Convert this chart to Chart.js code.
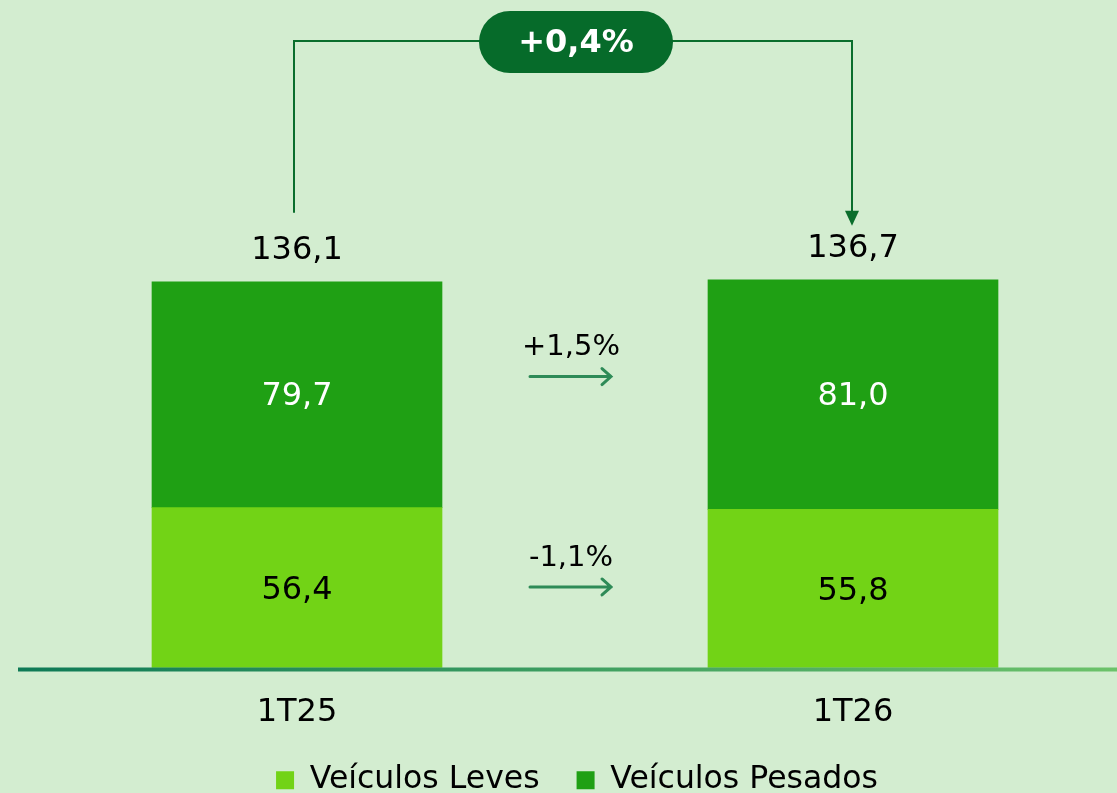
<!DOCTYPE html>
<html>
<head>
<meta charset="utf-8">
<script src="https://cdn.jsdelivr.net/npm/chart.js@4.4.0/dist/chart.umd.min.js"></script>
<style>
  html, body { margin: 0; padding: 0; background: #d3edd0; overflow: hidden; }
  #wrap { width: 1117px; height: 793px; }
</style>
</head>
<body>
<div id="wrap"><canvas id="volumeChart"></canvas></div>
<script>
// values
const categories = ['1T25', '1T26'];
const leves = [56.4, 55.8];
const pesados = [79.7, 81.0];
const totals = [136.1, 136.7];
const levesGrowth = '-1,1%';
const pesadosGrowth = '+1,5%';
const totalGrowth = '+0,4%';

const FONT = '"DejaVu Sans", Verdana, sans-serif';
const fmt = v => v.toFixed(1).replace('.', ',');

// draws the axis line, value labels, growth arrows and the top bracket
const annotations = {
    id: 'annotations',
    afterDatasetsDraw(chart) {
        const ctx = chart.ctx;
        const y = chart.scales.y;
        const base = y.getPixelForValue(0);
        const lowBars = chart.getDatasetMeta(0).data;
        const highBars = chart.getDatasetMeta(1).data;

        // gradient baseline
        const grad = ctx.createLinearGradient(18, 0, 1117, 0);
        grad.addColorStop(0, '#0e7a56');
        grad.addColorStop(1, '#6cc26a');
        ctx.save();
        ctx.fillStyle = grad;
        ctx.fillRect(18, base, 1099, 4);

        ctx.textAlign = 'center';
        ctx.textBaseline = 'middle';
        ctx.font = '32px ' + FONT;

        lowBars.forEach((bar, i) => {
            ctx.fillStyle = '#000';
            ctx.fillText(fmt(leves[i]), bar.x, (bar.y + bar.base) / 2 + 3);
            const hb = highBars[i];
            ctx.fillStyle = '#fff';
            ctx.fillText(fmt(pesados[i]), hb.x, (hb.y + hb.base) / 2 + 2);
            ctx.fillStyle = '#000';
            ctx.fillText(fmt(totals[i]), hb.x, hb.y - 31);
        });

        // growth arrows between the bars
        const midX = (lowBars[0].x + lowBars[1].x) / 2;
        const arrow = (cy, label) => {
            ctx.fillStyle = '#000';
            ctx.font = '29px ' + FONT;
            ctx.fillText(label, midX - 4, cy - 29);
            ctx.strokeStyle = '#2e8b57';
            ctx.lineWidth = 3;
            ctx.lineCap = 'round';
            ctx.beginPath();
            ctx.moveTo(midX - 45, cy);
            ctx.lineTo(midX + 36, cy);
            ctx.moveTo(midX + 27, cy - 8);
            ctx.lineTo(midX + 36, cy);
            ctx.lineTo(midX + 27, cy + 8);
            ctx.stroke();
        };
        const hiMid = (highBars[0].y + highBars[0].base + highBars[1].y + highBars[1].base) / 4;
        const loMid = (lowBars[0].y + lowBars[0].base + lowBars[1].y + lowBars[1].base) / 4;
        arrow(hiMid - 18, pesadosGrowth);
        arrow(loMid - 1, levesGrowth);

        // bracket over the bars
        const lx = highBars[0].x - 3;
        const rx = highBars[1].x - 1;
        const topY = 41;
        ctx.strokeStyle = '#0a6e2c';
        ctx.lineWidth = 2;
        ctx.lineCap = 'butt';
        ctx.beginPath();
        ctx.moveTo(lx, highBars[0].y - 69);
        ctx.lineTo(lx, topY);
        ctx.lineTo(rx, topY);
        ctx.lineTo(rx, highBars[1].y - 68);
        ctx.stroke();
        ctx.fillStyle = '#0a6e2c';
        ctx.beginPath();
        ctx.moveTo(rx - 7, highBars[1].y - 69);
        ctx.lineTo(rx + 7, highBars[1].y - 69);
        ctx.lineTo(rx, highBars[1].y - 54);
        ctx.closePath();
        ctx.fill();

        // badge
        const bx = 576, bw = 194, bh = 62;
        ctx.fillStyle = '#066b2a';
        ctx.beginPath();
        ctx.roundRect(bx - bw / 2, topY - bh / 2 + 1, bw, bh, bh / 2);
        ctx.fill();
        ctx.fillStyle = '#fff';
        ctx.font = 'bold 32px ' + FONT;
        ctx.fillText(totalGrowth, bx, topY + 3);
        ctx.restore();
    }
};

const chart = new Chart(document.getElementById('volumeChart'), {
    type: 'bar',
    data: {
        labels: categories,
        datasets: [
            { label: 'Veículos Leves', data: leves, backgroundColor: '#72d316', barThickness: 290, clip: false },
            { label: 'Veículos Pesados', data: pesados, backgroundColor: '#1fa014', barThickness: 290, clip: false }
        ]
    },
    options: {
        responsive: true,
        maintainAspectRatio: false,
        animation: false,
        layout: { padding: { left: 37, right: 0, top: 214, bottom: -13 } },
        scales: {
            x: {
                stacked: true,
                offset: false,
                grid: { display: false },
                border: { display: false },
                ticks: { color: '#000', font: { family: FONT, size: 32, lineHeight: 1.0 }, padding: 21 },
                afterFit: s => { s.height = 60; }
            },
            y: {
                stacked: true,
                min: 0,
                max: 160,
                grid: { display: false },
                border: { display: false },
                ticks: { display: false },
                afterFit: s => { s.width = 260; }
            },
            yRight: {
                position: 'right',
                grid: { display: false },
                border: { display: false },
                ticks: { display: false },
                afterFit: s => { s.width = 264; }
            }
        },
        plugins: {
            legend: {
                position: 'bottom',
                labels: {
                    color: '#000',
                    font: { family: FONT, size: 31.5 },
                    boxWidth: 18,
                    boxHeight: 18,
                    padding: 37
                }
            },
            tooltip: { enabled: false }
        }
    },
    plugins: [annotations]
});
</script>
</body>
</html>
